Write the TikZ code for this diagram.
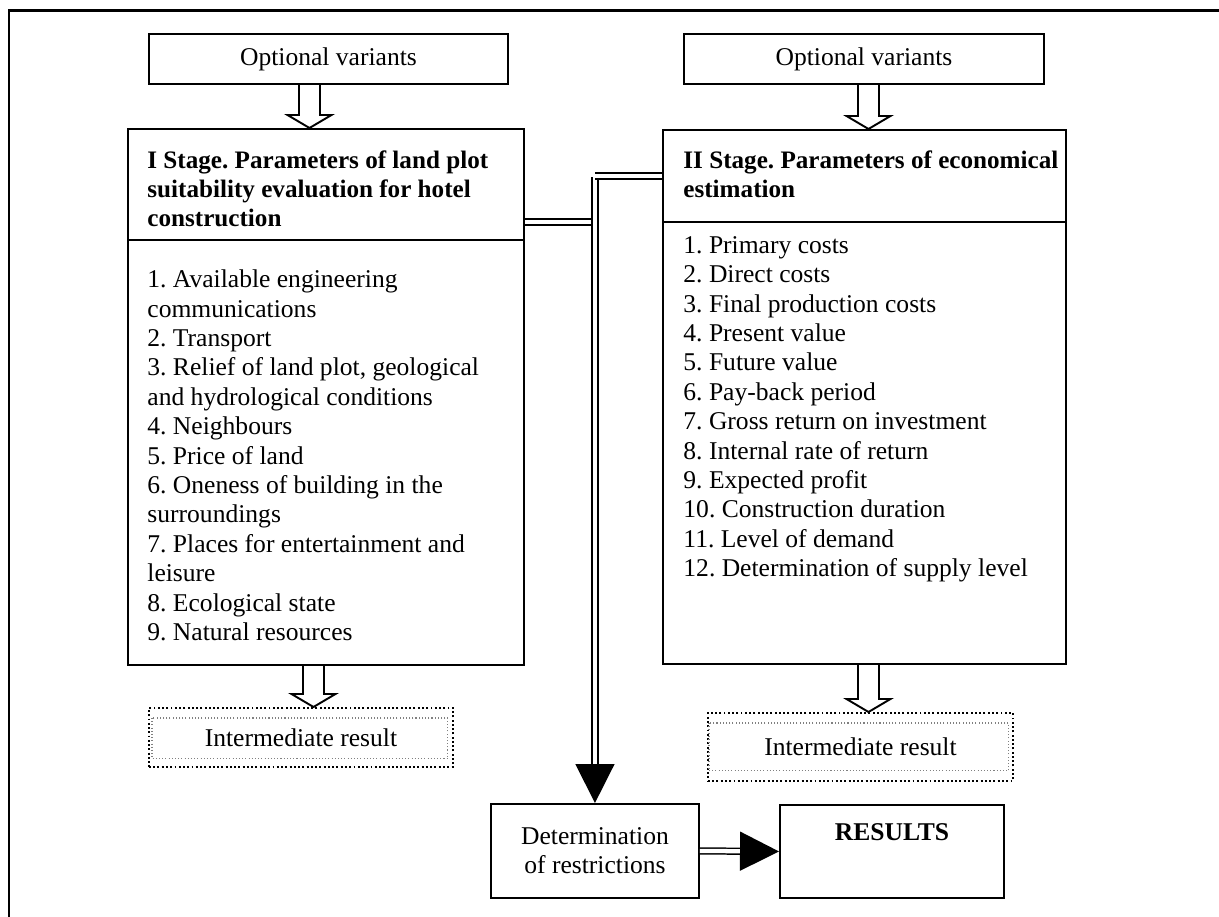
\documentclass[tikz,border=0pt]{standalone}
\usepackage{fontspec}
\setmainfont{Liberation Serif}
\usetikzlibrary{calc,positioning,arrows.meta}
\newcommand{\px}{0.0165cm}
\newcommand{\boxfont}{\fontsize{12}{13.8}\selectfont\frenchspacing}
\newcommand{\headfont}{\fontsize{11.8}{13.8}\selectfont\frenchspacing\bfseries}
% hollow arrow from (#1) down to (#2)
\newcommand{\openarrow}[2]{%
  \draw[outline] ($(#1)+(-10.5,0)$) -- ($(#2)+(-10.5,-13)$) -- ($(#2)+(-22,-13)$)
    -- (#2) -- ($(#2)+(22,-13)$) -- ($(#2)+(10.5,-13)$) -- ($(#1)+(10.5,0)$);}
\tikzset{
  box/.style={draw, line width=0.9pt, inner sep=0pt, anchor=north west,
    align=center, font=\boxfont},
  outline/.style={line width=0.9pt, line join=miter},
  title/.style={inner sep=0pt, anchor=north west, align=left,
    font=\headfont},
  items/.style={inner sep=0pt, anchor=north west, align=left, font=\boxfont},
  dotbox/.style={box, dash pattern=on 0.9pt off 1.1pt},
  innerbox/.style={draw=gray, densely dotted, line width=0.5pt},
  dline/.style={draw, double, double distance=2pt, line width=0.7pt},
  bigtip/.style={-{Triangle[length=18.3pt, width=18.3pt]}}
}

\begin{document}
\begin{tikzpicture}[x=\px, y=-\px]
  \useasboundingbox (0,0) rectangle (1219,917);
  % page frame
  \draw[line width=1.4pt] (9,917) -- (9,11) -- (1219,11);

  % inputs
  \node[box, minimum width=359*\px, minimum height=50*\px] (ov1) at (148,33) {Optional variants};
  \node[box, minimum width=360*\px, minimum height=50*\px] (ov2) at (683,33) {Optional variants};

  % stages
  \node[box, minimum width=396*\px, minimum height=536*\px] (stage1) at (127,128) {};
  \node[box, minimum width=403*\px, minimum height=534*\px] (stage2) at (662,129) {};
  \draw[line width=0.9pt] (stage1.west |- 0,240) -- (stage1.east |- 0,240);
  \draw[line width=0.9pt] (stage2.west |- 0,222) -- (stage2.east |- 0,222);
  \node[title] (title1) at (147,150) {I Stage. Parameters of land plot\\suitability evaluation for hotel\\construction};
  \node[items] (list1) at (147,269.5) {1. Available engineering\\communications\\2. Transport\\3. Relief of land plot, geological\\and hydrological conditions\\4. Neighbours\\5. Price of land\\6. Oneness of building in the\\surroundings\\7. Places for entertainment and\\leisure\\8. Ecological state\\9. Natural resources};
  \node[title] (title2) at (683,150) {II Stage. Parameters of economical\\estimation};
  \node[items] (list2) at (683,236) {1. Primary costs\\2. Direct costs\\3. Final production costs\\4. Present value\\5. Future value\\6. Pay-back period\\7. Gross return on investment\\8. Internal rate of return\\9. Expected profit\\10. Construction duration\\11. Level of demand\\12. Determination of supply level};

  % intermediate results
  \node[dotbox, minimum width=304*\px, minimum height=59*\px] (inter1) at (148,707) {Intermediate result};
  \draw[innerbox] ($(inter1.north west)+(4,11)$) rectangle ($(inter1.south east)+(-6,-9)$);
  \node[dotbox, minimum width=305*\px, minimum height=68*\px] (inter2) at (707,712) {Intermediate result};
  \draw[innerbox] ($(inter2.north west)+(2,11)$) rectangle ($(inter2.south east)+(-5,-11)$);

  % outputs
  \node[box, minimum width=208*\px, minimum height=94*\px] (det) at (490,803) {Determination\\of restrictions};
  \node[box, minimum width=224*\px, minimum height=93*\px] (res) at (779,804) {\textbf{RESULTS}\\\strut};

  % hollow arrows
  \openarrow{ov1.south -| 309.5,0}{stage1.north -| 309.5,0}
  \openarrow{ov2.south -| 868.5,0}{stage2.north -| 868.5,0}
  \openarrow{stage1.south -| 313.5,0}{inter1.north -| 313.5,0}
  \openarrow{stage2.south -| 868.5,0}{inter2.north -| 868.5,0}

  % double connectors
  \draw[dline, bigtip] (det.north |- 0,177) -- (det.north);
  \draw[dline, shorten >=2pt] (stage1.east |- 0,222) -- (det.north |- 0,222);
  \draw[dline] (stage2.west |- 0,176) -- (det.north |- 0,176);
  \draw[dline, bigtip] (det.east) -- (res.west);
\end{tikzpicture}
\end{document}
